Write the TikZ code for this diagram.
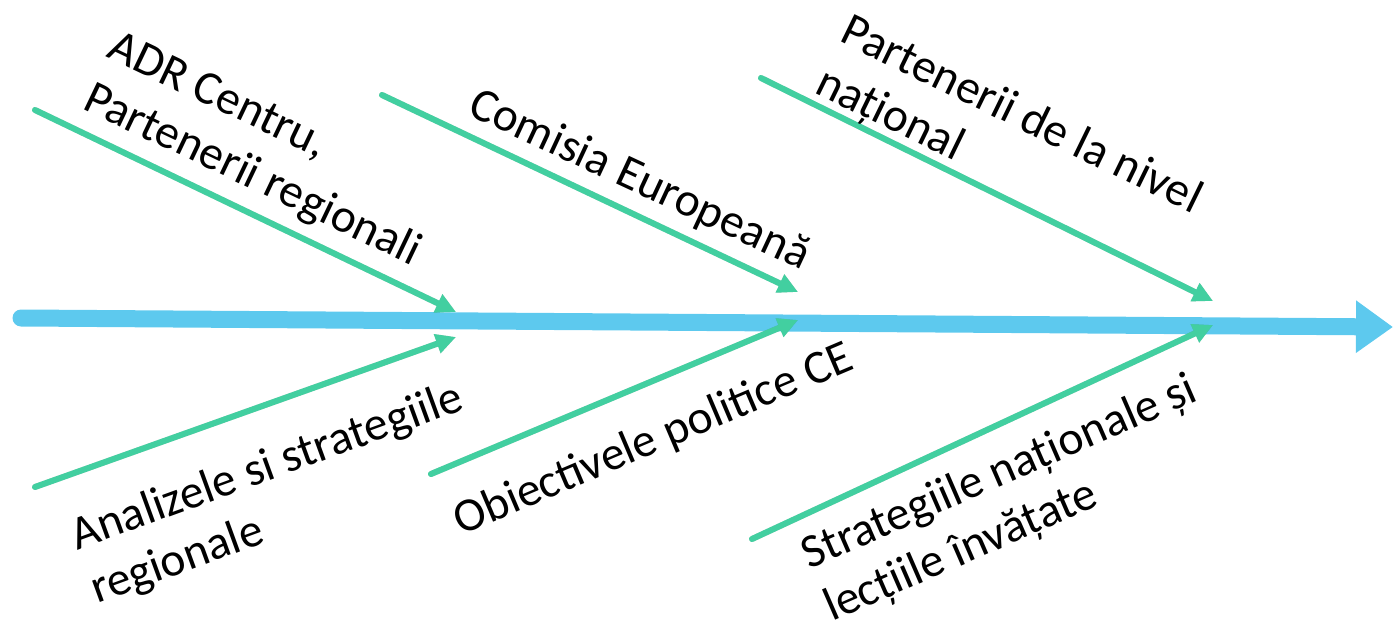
\documentclass[tikz,border=0pt]{standalone}
\usepackage{fontspec}
\setmainfont{Carlito}
\usetikzlibrary{arrows.meta}
\definecolor{spine}{RGB}{93,201,238}
\definecolor{bone}{RGB}{66,207,160}
\begin{document}
\begin{tikzpicture}[x=1pt,y=-1pt,
  lbl/.style={font=\fontsize{47.5}{57}\selectfont, anchor=base west, inner sep=0pt, text=black, align=left},
  bonearrow/.style={draw=bone, line width=6pt, line cap=round, -{Triangle[length=20pt,width=19pt]}},
  boneshadow/.style={draw=black, draw opacity=0.16, line width=6pt, line cap=round, -{Triangle[length=20pt,width=19pt]}},
  spinearrow/.style={draw=spine, fill=spine, line width=17pt, line cap=round, -{Triangle[length=37pt,width=50pt]}}]
\useasboundingbox (0,0) rectangle (1393,626);
% coordinates
\coordinate (sp0) at (21,318);
\coordinate (sp1) at (1393,327);
\coordinate (s1) at (35,110);   \coordinate (e1) at (456,312);
\coordinate (s2) at (382,95);   \coordinate (e2) at (798,292);
\coordinate (s3) at (761,78);   \coordinate (e3) at (1213,301);
\coordinate (s4) at (35,487);   \coordinate (e4) at (456,337);
\coordinate (s5) at (431,474);  \coordinate (e5) at (798,320);
\coordinate (s6) at (752,539);  \coordinate (e6) at (1213,325);
% spine
\draw[spinearrow] (sp0) -- (sp1);
% shadows
\begin{scope}[shift={(1.5,3)}]
\foreach \a/\b in {s1/e1,s2/e2,s3/e3,s4/e4,s5/e5,s6/e6}
  \draw[boneshadow] (\a) -- (\b);
\end{scope}
% bones
\foreach \a/\b in {s1/e1,s2/e2,s3/e3,s4/e4,s5/e5,s6/e6}
  \draw[bonearrow] (\a) -- (\b);
% labels (anchor = baseline of the last line)
\node[lbl, rotate=-25.5] (t1) at (81,108) {ADR Centru,\\Partenerii regionali};
\node[lbl, rotate=-25] (t2) at (466,114) {Comisia Europeană};
\node[lbl, rotate=-26] (t3) at (813,92) {Partenerii de la nivel\\național};
\node[lbl, rotate=20] (t4) at (97,604) {Analizele si strategiile\\regionale};
\node[lbl, rotate=23] (t5) at (461,536) {Obiectivele politice CE};
\node[lbl, rotate=23.5] (t6) at (832,622) {Strategiile naționale și\\lecțiile învățate};
\end{tikzpicture}
\end{document}
